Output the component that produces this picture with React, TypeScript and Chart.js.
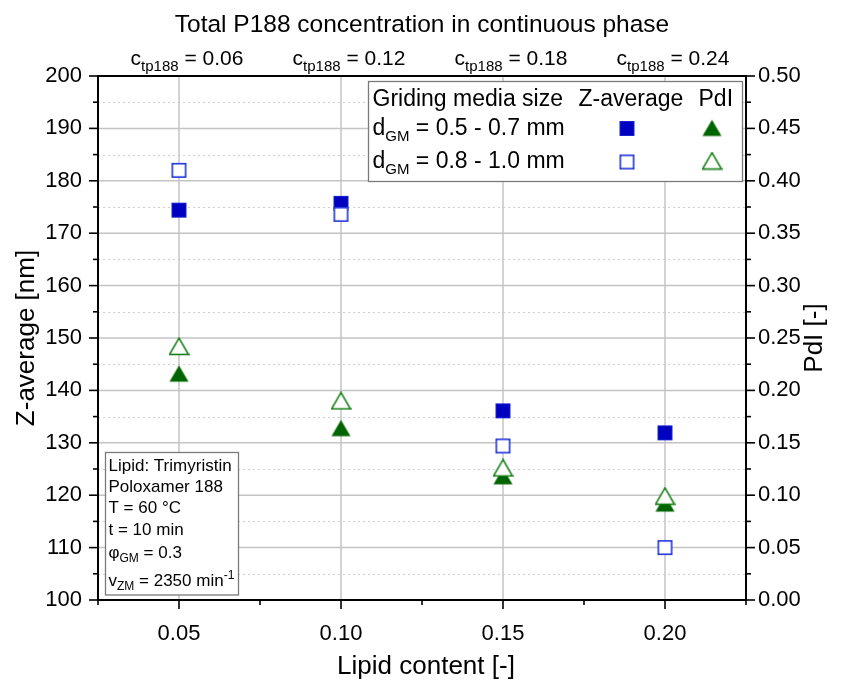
import React, { useEffect, useRef } from 'react';
import { Chart, registerables } from 'chart.js';

Chart.register(...registerables);

// ---------- data ----------
const LIPID_CONTENT = [0.05, 0.1, 0.15, 0.2];
const CTP188_LABELS = ['0.06', '0.12', '0.18', '0.24'];
const Z_AVG_SMALL_GM = [174.4, 175.7, 136.1, 131.9]; // d_GM = 0.5 - 0.7 mm
const Z_AVG_LARGE_GM = [182.0, 173.6, 129.4, 110.0]; // d_GM = 0.8 - 1.0 mm
const PDI_SMALL_GM = [0.216, 0.164, 0.118, 0.092];
const PDI_LARGE_GM = [0.242, 0.19, 0.126, 0.099];

// ---------- axis ticks ----------
const X_MAJOR = [0.05, 0.1, 0.15, 0.2];
const X_MINOR = [0.025, 0.075, 0.125, 0.175, 0.225];
const Y_MAJOR = [100, 110, 120, 130, 140, 150, 160, 170, 180, 190, 200];
const Y_MINOR = [105, 115, 125, 135, 145, 155, 165, 175, 185, 195];
const Y1_MAJOR = [0, 0.05, 0.1, 0.15, 0.2, 0.25, 0.3, 0.35, 0.4, 0.45, 0.5];
const Y1_MINOR = [0.025, 0.075, 0.125, 0.175, 0.225, 0.275, 0.325, 0.375, 0.425, 0.475];

const FONT = '"Liberation Sans", Arial, sans-serif';
const BLUE_FILL = '#0000c0';
const BLUE_LINE = '#1f33dc';
const GREEN_FILL = '#006400';
const GREEN_LINE = '#0b7a0b';

function makeSquare(filled: boolean): HTMLCanvasElement {
  const c = document.createElement('canvas');
  c.width = 17;
  c.height = 17;
  const ctx = c.getContext('2d')!;
  if (filled) {
    ctx.fillStyle = BLUE_FILL;
    ctx.fillRect(1, 1, 15, 15);
    ctx.strokeStyle = '#1525d0';
    ctx.lineWidth = 1;
    ctx.strokeRect(1.5, 1.5, 14, 14);
  } else {
    ctx.fillStyle = '#ffffff';
    ctx.fillRect(1, 1, 15, 15);
    ctx.strokeStyle = BLUE_LINE;
    ctx.lineWidth = 1.6;
    ctx.strokeRect(1.8, 1.8, 13.4, 13.4);
  }
  return c;
}

function makeTriangle(filled: boolean): HTMLCanvasElement {
  const c = document.createElement('canvas');
  c.width = 21;
  c.height = 19;
  const ctx = c.getContext('2d')!;
  ctx.beginPath();
  ctx.moveTo(10.5, 1.2);
  ctx.lineTo(20, 17.6);
  ctx.lineTo(1, 17.6);
  ctx.closePath();
  if (filled) {
    ctx.fillStyle = GREEN_FILL;
    ctx.fill();
  } else {
    ctx.fillStyle = '#ffffff';
    ctx.fill();
    ctx.strokeStyle = GREEN_LINE;
    ctx.lineWidth = 1.5;
    ctx.lineJoin = 'miter';
    ctx.stroke();
  }
  return c;
}

type Part = { t: string; size: number; dy: number };

function partsWidth(ctx: CanvasRenderingContext2D, parts: Part[]) {
  let w = 0;
  for (const p of parts) {
    ctx.font = `${p.size}px ${FONT}`;
    w += ctx.measureText(p.t).width;
  }
  return w;
}

function drawParts(ctx: CanvasRenderingContext2D, parts: Part[], x: number, y: number, align: 'left' | 'center') {
  let cx = align === 'center' ? x - partsWidth(ctx, parts) / 2 : x;
  ctx.textAlign = 'left';
  ctx.textBaseline = 'alphabetic';
  for (const p of parts) {
    ctx.font = `${p.size}px ${FONT}`;
    ctx.fillText(p.t, cx, y + p.dy);
    cx += ctx.measureText(p.t).width;
  }
}

export default function App() {
  const ref = useRef<HTMLCanvasElement | null>(null);

  useEffect(() => {
    document.body.style.margin = '0';
    document.body.style.overflow = 'hidden';
    const canvas = ref.current!;
    const sqFilled = makeSquare(true);
    const sqOpen = makeSquare(false);
    const triFilled = makeTriangle(true);
    const triOpen = makeTriangle(false);

    const decor = {
      id: 'decor',
      beforeDatasetsDraw(chart: any) {
        const { ctx, chartArea: a, scales } = chart;
        const x = scales.x, y = scales.y;
        ctx.save();
        // minor dotted horizontal
        ctx.strokeStyle = '#cfcfcf';
        ctx.lineWidth = 1;
        ctx.setLineDash([2, 3]);
        for (const v of Y_MINOR) {
          const py = Math.round(y.getPixelForValue(v)) + 0.5;
          ctx.beginPath();
          ctx.moveTo(a.left, py);
          ctx.lineTo(a.right, py);
          ctx.stroke();
        }
        ctx.setLineDash([]);
        ctx.strokeStyle = '#c4c4c4';
        ctx.lineWidth = 1.5;
        for (const v of Y_MAJOR) {
          const py = y.getPixelForValue(v);
          ctx.beginPath();
          ctx.moveTo(a.left, py);
          ctx.lineTo(a.right, py);
          ctx.stroke();
        }
        for (const v of X_MAJOR) {
          const px = x.getPixelForValue(v);
          ctx.beginPath();
          ctx.moveTo(px, a.top);
          ctx.lineTo(px, a.bottom);
          ctx.stroke();
        }
        ctx.restore();
      },
      afterDatasetsDraw(chart: any) {
        const { ctx, chartArea: a, scales } = chart;
        const x = scales.x, y = scales.y, y1 = scales.y1;
        ctx.save();
        // ticks
        ctx.strokeStyle = '#000';
        ctx.lineWidth = 1.6;
        const hTick = (px: number, len: number) => {
          ctx.beginPath();
          ctx.moveTo(px, a.bottom);
          ctx.lineTo(px, a.bottom + len);
          ctx.stroke();
        };
        X_MAJOR.forEach((v) => hTick(x.getPixelForValue(v), 9));
        X_MINOR.forEach((v) => hTick(x.getPixelForValue(v), 5));
        const lTick = (py: number, len: number) => {
          ctx.beginPath();
          ctx.moveTo(a.left, py);
          ctx.lineTo(a.left - len, py);
          ctx.stroke();
        };
        Y_MAJOR.forEach((v) => lTick(y.getPixelForValue(v), 9));
        Y_MINOR.forEach((v) => lTick(y.getPixelForValue(v), 5));
        const rTick = (py: number, len: number) => {
          ctx.beginPath();
          ctx.moveTo(a.right, py);
          ctx.lineTo(a.right + len, py);
          ctx.stroke();
        };
        Y1_MAJOR.forEach((v) => rTick(y1.getPixelForValue(v), 9));
        Y1_MINOR.forEach((v) => rTick(y1.getPixelForValue(v), 5));
        // frame
        ctx.lineWidth = 2;
        ctx.strokeRect(a.left, a.top, a.right - a.left, a.bottom - a.top);

        // legend box
        ctx.fillStyle = '#fff';
        ctx.fillRect(368.5, 81.5, 374, 100);
        ctx.strokeStyle = '#7a7a7a';
        ctx.lineWidth = 1.3;
        ctx.strokeRect(368.5, 81.5, 374, 100);
        ctx.fillStyle = '#000';
        drawParts(ctx, [{ t: 'Griding media size', size: 23, dy: 0 }], 372.5, 106, 'left');
        drawParts(ctx, [{ t: 'Z-average', size: 23, dy: 0 }], 578.5, 106, 'left');
        drawParts(ctx, [{ t: 'PdI', size: 23, dy: 0 }], 698.5, 106, 'left');
        drawParts(ctx, [
          { t: 'd', size: 23, dy: 0 },
          { t: 'GM', size: 15, dy: 6 },
          { t: ' = 0.5 - 0.7 mm', size: 23, dy: 0 },
        ], 372.5, 135, 'left');
        drawParts(ctx, [
          { t: 'd', size: 23, dy: 0 },
          { t: 'GM', size: 15, dy: 6 },
          { t: ' = 0.8 - 1.0 mm', size: 23, dy: 0 },
        ], 372.5, 168, 'left');
        ctx.drawImage(sqFilled, 627 - 8.5, 128.5 - 8.5);
        ctx.drawImage(triFilled, 712 - 10.5, 128 - 9.5);
        ctx.drawImage(sqOpen, 627 - 8.5, 162 - 8.5);
        ctx.drawImage(triOpen, 712 - 10.5, 161 - 9.5);

        // annotation box
        ctx.fillStyle = '#fff';
        ctx.fillRect(105.5, 452.5, 133, 142.5);
        ctx.strokeStyle = '#7a7a7a';
        ctx.lineWidth = 1.3;
        ctx.strokeRect(105.5, 452.5, 133, 142.5);
        ctx.fillStyle = '#000';
        const ax = 108.5;
        drawParts(ctx, [{ t: 'Lipid: Trimyristin', size: 17, dy: 0 }], ax, 471, 'left');
        drawParts(ctx, [{ t: 'Poloxamer 188', size: 17, dy: 0 }], ax, 492, 'left');
        drawParts(ctx, [{ t: 'T = 60 °C', size: 17, dy: 0 }], ax, 513, 'left');
        drawParts(ctx, [{ t: 't = 10 min', size: 17, dy: 0 }], ax, 534.5, 'left');
        drawParts(ctx, [
          { t: 'φ', size: 17, dy: 0 },
          { t: 'GM', size: 12, dy: 4 },
          { t: ' = 0.3', size: 17, dy: 0 },
        ], ax, 557.5, 'left');
        drawParts(ctx, [
          { t: 'v', size: 17, dy: 0 },
          { t: 'ZM', size: 12, dy: 4 },
          { t: ' = 2350 min', size: 17, dy: 0 },
          { t: '-1', size: 12, dy: -7 },
        ], ax, 585.5, 'left');

        // title + top labels
        ctx.fillStyle = '#000';
        drawParts(ctx, [{ t: 'Total P188 concentration in continuous phase', size: 24.5, dy: 0 }], (a.left + a.right) / 2, 31.5, 'center');
        LIPID_CONTENT.forEach((v, i) => {
          drawParts(ctx, [
            { t: 'c', size: 21, dy: 0 },
            { t: 'tp188', size: 15, dy: 6 },
            { t: ' = ' + CTP188_LABELS[i], size: 21, dy: 0 },
          ], x.getPixelForValue(v) + 8, 65, 'center');
        });

        // axis titles
        drawParts(ctx, [{ t: 'Lipid content [-]', size: 26, dy: 0 }], (a.left + a.right) / 2 + 4, 674, 'center');
        ctx.save();
        ctx.translate(27, (a.top + a.bottom) / 2);
        ctx.rotate(-Math.PI / 2);
        ctx.font = `26px ${FONT}`;
        ctx.textAlign = 'center';
        ctx.textBaseline = 'middle';
        ctx.fillText('Z-average [nm]', 0, 0);
        ctx.restore();
        ctx.save();
        ctx.translate(815, (a.top + a.bottom) / 2);
        ctx.rotate(-Math.PI / 2);
        ctx.font = `26px ${FONT}`;
        ctx.textAlign = 'center';
        ctx.textBaseline = 'middle';
        ctx.fillText('PdI [-]', 0, 0);
        ctx.restore();
        ctx.restore();
      },
    };

    const pts = (xs: number[], ys: number[]) => xs.map((v, i) => ({ x: v, y: ys[i] }));

    const chart = new Chart(canvas, {
      type: 'scatter',
      data: {
        datasets: [
          { label: 'Z 0.8-1.0', data: pts(LIPID_CONTENT, Z_AVG_LARGE_GM), yAxisID: 'y', pointStyle: sqOpen, order: 0 },
          { label: 'Z 0.5-0.7', data: pts(LIPID_CONTENT, Z_AVG_SMALL_GM), yAxisID: 'y', pointStyle: sqFilled, order: 1 },
          { label: 'PdI 0.8-1.0', data: pts(LIPID_CONTENT, PDI_LARGE_GM), yAxisID: 'y1', pointStyle: triOpen, order: 2 },
          { label: 'PdI 0.5-0.7', data: pts(LIPID_CONTENT, PDI_SMALL_GM), yAxisID: 'y1', pointStyle: triFilled, order: 3 },
        ] as any,
      },
      options: {
        animation: false,
        responsive: false,
        devicePixelRatio: 1,
        events: [],
        layout: { padding: { top: 76, left: 0, right: 0, bottom: 0 } },
        plugins: { legend: { display: false }, tooltip: { enabled: false }, title: { display: false } },
        elements: { point: { radius: 10, hoverRadius: 10 } },
        scales: {
          x: {
            type: 'linear',
            position: 'bottom',
            min: 0.025,
            max: 0.225,
            afterBuildTicks: (s: any) => {
              s.ticks = X_MAJOR.map((value) => ({ value }));
            },
            afterFit: (s: any) => {
              s.height = 80;
            },
            grid: { display: false, drawTicks: false },
            border: { display: false },
            ticks: {
              autoSkip: false,
              maxRotation: 0,
              padding: 21,
              color: '#000',
              font: { family: FONT, size: 22 },
              callback: (v: any) => Number(v).toFixed(2),
            },
          },
          y: {
            type: 'linear',
            position: 'left',
            min: 100,
            max: 200,
            afterFit: (s: any) => {
              s.width = 98;
            },
            grid: { display: false, drawTicks: false },
            border: { display: false },
            ticks: {
              stepSize: 10,
              padding: 16,
              color: '#000',
              font: { family: FONT, size: 22 },
            },
          },
          y1: {
            type: 'linear',
            position: 'right',
            min: 0,
            max: 0.5,
            afterFit: (s: any) => {
              s.width = 97;
            },
            grid: { display: false, drawTicks: false },
            border: { display: false },
            ticks: {
              stepSize: 0.05,
              padding: 12,
              color: '#000',
              font: { family: FONT, size: 22 },
              callback: (v: any) => Number(v).toFixed(2),
            },
          },
        },
      } as any,
      plugins: [decor],
    });
    return () => chart.destroy();
  }, []);

  return (
    <div style={{ width: 843, height: 680, background: '#fff' }}>
      <canvas ref={ref} width={843} height={680} style={{ display: 'block' }} />
    </div>
  );
}
